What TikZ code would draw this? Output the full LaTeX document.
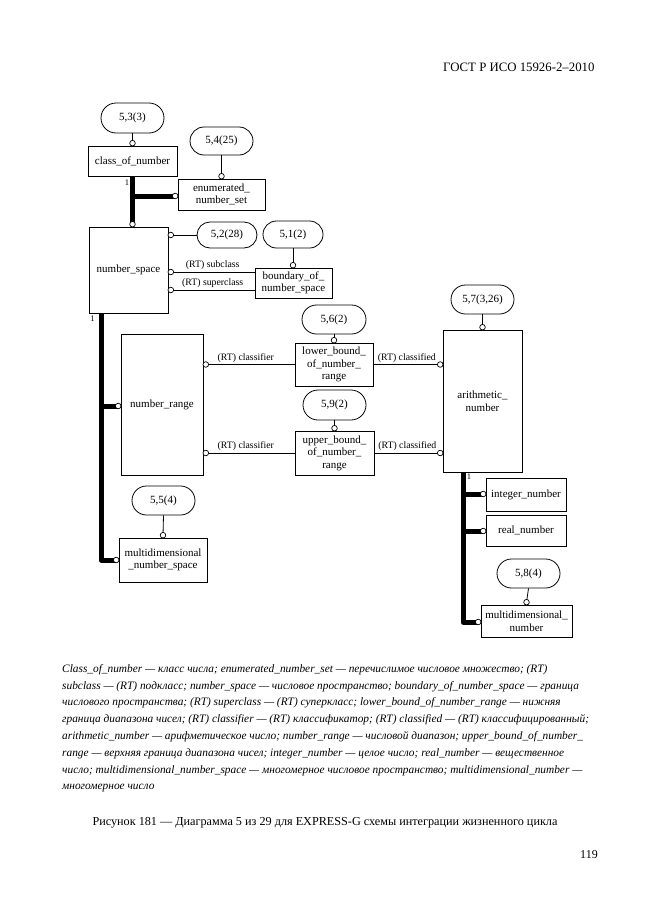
\documentclass[tikz,border=0pt]{standalone}
\usepackage{fontspec}
\setmainfont{Liberation Serif}
\usetikzlibrary{backgrounds}

\tikzset{
	entity/.style={draw, line width=0.8pt, rectangle, inner sep=1pt, align=center, font=\fontsize{11}{12.5}\selectfont},
	refbubble/.style={draw, line width=0.8pt, rectangle, inner sep=1pt, font=\fontsize{11}{12.5}\selectfont},
	ring/.style={circle, draw, fill=white, line width=0.7pt, inner sep=0pt, minimum size=5.6pt},
	rel/.style={line width=0.8pt},
	subtype/.style={line width=5pt, line join=round},
	rellabel/.style={font=\fontsize{9.8}{11}\selectfont, inner sep=2pt},
	cardlabel/.style={font=\fontsize{8.5}{9}\selectfont, inner sep=0pt}
}

\begin{document}
\begin{tikzpicture}[x=1pt,y=-1pt]
		\useasboundingbox (0,0) rectangle (661,913);

		% page header
		\node [font=\fontsize{12.8}{15}\selectfont, anchor=east] (header) at (598,67) {ГОСТ Р ИСО 15926-2--2010};

		% draw the entities
		\node [entity, minimum width=89pt, minimum height=30pt] (classnum) at (132.5,161) {class\_of\_number};
		\node [entity, minimum width=87pt, minimum height=31pt] (enumset) at (221.5,194.5) {enumerated\_\\number\_set};
		\node [entity, minimum width=79pt, minimum height=86pt] (numspace) at (128.5,270) {number\_space};
		\node [entity, minimum width=77pt, minimum height=30pt] (boundary) at (293.5,283) {boundary\_of\_\\number\_space};
		\node [entity, minimum width=82pt, minimum height=141pt] (numrange) at (162,404.5) {number\_range};
		\node [entity, minimum width=78pt, minimum height=43pt] (lowerb) at (334,364.5) {lower\_bound\_\\of\_number\_\\range};
		\node [entity, minimum width=79pt, minimum height=44pt] (upperb) at (334.5,453) {upper\_bound\_\\of\_number\_\\range};
		\node [entity, minimum width=79pt, minimum height=142pt] (arith) at (482.5,401) {arithmetic\_\\number};
		\node [entity, minimum width=80pt, minimum height=33pt] (intnum) at (526,494.5) {integer\_number};
		\node [entity, minimum width=80pt, minimum height=31pt] (realnum) at (526,530.5) {real\_number};
		\node [entity, minimum width=91pt, minimum height=32pt] (mdnum) at (526.5,621) {multidimensional\_\\number};
		\node [entity, minimum width=88pt, minimum height=44pt] (mdspace) at (163,560) {multidimensional\\\_number\_space};

		% draw the page references
		\node [refbubble, rounded corners=15pt, minimum width=63pt, minimum height=30pt] (b53) at (132.5,118) {5,3(3)};
		\node [refbubble, rounded corners=14pt, minimum width=63pt, minimum height=28pt] (b54) at (221.5,141) {5,4(25)};
		\node [refbubble, rounded corners=13pt, minimum width=60pt, minimum height=26pt] (b52) at (227,235) {5,2(28)};
		\node [refbubble, rounded corners=13.5pt, minimum width=60pt, minimum height=27pt] (b51) at (293,234.5) {5,1(2)};
		\node [refbubble, rounded corners=14.5pt, minimum width=64pt, minimum height=29pt] (b56) at (334,319.5) {5,6(2)};
		\node [refbubble, rounded corners=15pt, minimum width=63pt, minimum height=30pt] (b59) at (334.5,405) {5,9(2)};
		\node [refbubble, rounded corners=14.5pt, minimum width=63pt, minimum height=29pt] (b57) at (482.5,299.5) {5,7(3,26)};
		\node [refbubble, rounded corners=14.5pt, minimum width=63pt, minimum height=29pt] (b55) at (163.5,500.5) {5,5(4)};
		\node [refbubble, rounded corners=14.5pt, minimum width=63pt, minimum height=29pt] (b58) at (528.5,573.5) {5,8(4)};

		% the small circles at the line ends
		\node [ring] (r53) at (132.5,143.2) {};
		\node [ring] (r54) at (221.5,176.2) {};
		\node [ring] (r51) at (293,265.2) {};
		\node [ring] (r56) at (334,340.2) {};
		\node [ring] (r59) at (334.5,428.2) {};
		\node [ring] (r57) at (482.5,327.2) {};
		\node [ring] (r55) at (163,535.2) {};
		\node [ring] (r58) at (526.5,602.2) {};

		\node [ring] (r52) at (170.8,235) {};
		\node [ring] (rsub) at (170.8,272) {};
		\node [ring] (rsup) at (170.8,290) {};
		\node [ring] (rcl1) at (205.8,364.5) {};
		\node [ring] (rcl2) at (205.8,453) {};
		\node [ring] (rcd1) at (440.2,364.5) {};
		\node [ring] (rcd2) at (440.2,453) {};

		\node [ring] (renum) at (175.2,196) {};
		\node [ring] (rns) at (132.5,224.2) {};
		\node [ring] (rnr) at (118.2,406) {};
		\node [ring] (rmds) at (116.2,560) {};
		\node [ring] (rint) at (483.2,494) {};
		\node [ring] (rreal) at (483.2,531) {};
		\node [ring] (rmdn) at (478.2,622) {};

		\coordinate (nsroot) at (101,313);
		\coordinate (anroot) at (463,472);

		% cardinality marks
		\node [cardlabel] (one1) at (127,183) {1};
		\node [cardlabel] (one2) at (92.5,319) {1};
		\node [cardlabel] (one3) at (469,477) {1};

		\begin{scope}[on background layer]
			% references to other pages
			\draw [rel] (b53.south) -- (r53.center);
			\draw [rel] (b54.south) -- (r54.center);
			\draw [rel] (b51.south) -- (r51.center);
			\draw [rel] (b56.south) -- (r56.center);
			\draw [rel] (b59.south) -- (r59.center);
			\draw [rel] (b57.south) -- (r57.center);
			\draw [rel] (b55.south) -- (r55.center);
			\draw [rel] (b58.south) -- (r58.center);
			\draw [rel] (r52.center) -- (b52.west);

			% relationships
			\draw [rel] (rsub.center) -- (rsub -| boundary.west) node [rellabel, midway, above] {(RT) subclass};
			\draw [rel] (rsup.center) -- (rsup -| boundary.west) node [rellabel, midway, above] {(RT) superclass};
			\draw [rel] (rcl1.center) -- (rcl1 -| lowerb.west) node [rellabel, pos=0.45, above] {(RT) classifier};
			\draw [rel] (rcl2.center) -- (rcl2 -| upperb.west) node [rellabel, pos=0.45, above] {(RT) classifier};
			\draw [rel] (rcd1 -| lowerb.east) -- (rcd1.center) node [rellabel, midway, above] {(RT) classified};
			\draw [rel] (rcd2 -| upperb.east) -- (rcd2.center) node [rellabel, midway, above] {(RT) classified};

			% subtype trees
			\draw [subtype] (classnum.south) -- (rns.center);
			\draw [subtype] (classnum.south |- renum) -- (renum.center);

			\draw [subtype] (nsroot) |- (rmds.center);
			\draw [subtype] (nsroot |- rnr) -- (rnr.center);

			\draw [subtype] (anroot) |- (rmdn.center);
			\draw [subtype] (anroot |- rint) -- (rint.center);
			\draw [subtype] (anroot |- rreal) -- (rreal.center);
		\end{scope}

		% legend under the diagram
		\node [anchor=north west, align=left, inner sep=0pt, font=\itshape\fontsize{11.35}{16.8}\selectfont] (legend) at (62,664) {%
			Class\_of\_number --- класс числа; enumerated\_number\_set --- перечислимое числовое множество; (RT)\\
			subclass --- (RT) подкласс; number\_space --- числовое пространство; boundary\_of\_number\_space --- граница\\
			числового пространства; (RT) superclass --- (RT) суперкласс; lower\_bound\_of\_number\_range --- нижняя\\
			граница диапазона чисел; (RT) classifier --- (RT) классификатор; (RT) classified --- (RT) классифицированный;\\
			arithmetic\_number --- арифметическое число; number\_range --- числовой диапазон; upper\_bound\_of\_number\_\\
			range --- верхняя граница диапазона чисел; integer\_number --- целое число; real\_number --- вещественное\\
			число; multidimensional\_number\_space --- многомерное числовое пространство; multidimensional\_number ---\\
			многомерное число};

		% caption and page number
		\node [font=\fontsize{12.2}{14}\selectfont] (caption) at (325,823) {Рисунок 181 --- Диаграмма 5 из 29 для EXPRESS-G схемы интеграции жизненного цикла};
		\node [font=\fontsize{12}{14}\selectfont] (pagenum) at (589,855) {119};
\end{tikzpicture}
\end{document}
